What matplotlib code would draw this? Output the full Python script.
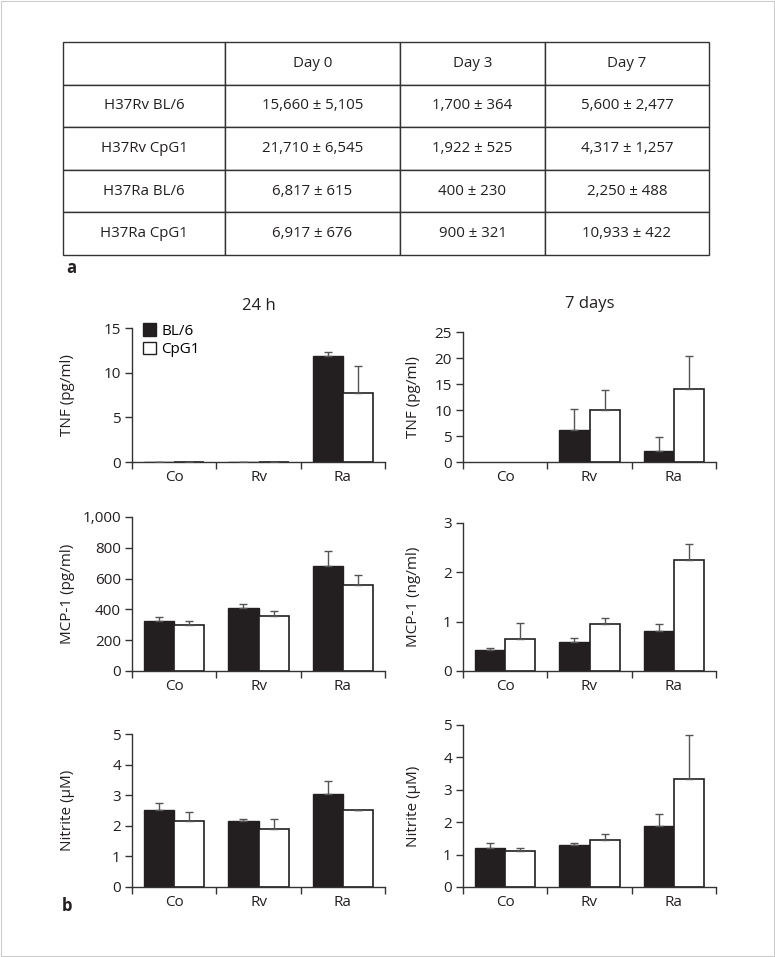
import numpy as np
import matplotlib
matplotlib.use("Agg")
import matplotlib.pyplot as plt
from matplotlib.patches import Patch, Rectangle
from matplotlib.ticker import FuncFormatter

plt.rcParams['font.family'] = ['Open Sans', 'DejaVu Sans']

# ---- table data (panel a) ----
col_labels = ["", "Day 0", "Day 3", "Day 7"]
row_labels = ["H37Rv BL/6", "H37Rv CpG1", "H37Ra BL/6", "H37Ra CpG1"]
day0 = ["15,660 \u00b1 5,105", "21,710 \u00b1 6,545", "6,817 \u00b1 615", "6,917 \u00b1 676"]
day3 = ["1,700 \u00b1 364", "1,922 \u00b1 525", "400 \u00b1 230", "900 \u00b1 321"]
day7 = ["5,600 \u00b1 2,477", "4,317 \u00b1 1,257", "2,250 \u00b1 488", "10,933 \u00b1 422"]

# ---- bar data (panel b) ----
groups = ["Co", "Rv", "Ra"]

tnf_24_bl = [0, 0, 11.9]
tnf_24_bl_err = [0, 0, 0.45]
tnf_24_cpg = [0, 0, 7.7]
tnf_24_cpg_err = [0, 0, 3.0]

tnf_7_bl = [np.nan, 6.1, 2.05]
tnf_7_bl_err = [np.nan, 4.1, 2.75]
tnf_7_cpg = [np.nan, 10.05, 14.0]
tnf_7_cpg_err = [np.nan, 3.85, 6.3]

mcp_24_bl = [324, 411, 680]
mcp_24_bl_err = [24, 24, 96]
mcp_24_cpg = [300, 354, 557]
mcp_24_cpg_err = [24, 35, 67]

mcp_7_bl = [0.42, 0.59, 0.82]
mcp_7_bl_err = [0.05, 0.08, 0.13]
mcp_7_cpg = [0.64, 0.95, 2.26]
mcp_7_cpg_err = [0.33, 0.12, 0.31]

no_24_bl = [2.51, 2.17, 3.05]
no_24_bl_err = [0.25, 0.06, 0.41]
no_24_cpg = [2.17, 1.90, 2.53]
no_24_cpg_err = [0.28, 0.32, 0.0]

no_7_bl = [1.21, 1.29, 1.88]
no_7_bl_err = [0.14, 0.08, 0.36]
no_7_cpg = [1.12, 1.44, 3.33]
no_7_cpg_err = [0.09, 0.20, 1.37]

W, H = 775, 957
fig = plt.figure(figsize=(W / 100, H / 100), dpi=100)
fig.patches.append(Rectangle((0.001, 0.001), 0.998, 0.998, transform=fig.transFigure,
                             fill=False, edgecolor="#cccccc", lw=0.8))

# ---- panel a: table ----
tab_ax = fig.add_axes([63 / W, 1 - 255 / H, 646 / W, 213 / H])
tab_ax.axis("off")
cells = [col_labels] + [[r, a, b, c] for r, a, b, c in zip(row_labels, day0, day3, day7)]
widths = np.array([162, 175, 145, 164]) / 646
tbl = tab_ax.table(cellText=cells, colWidths=widths, cellLoc="center", bbox=[0, 0, 1, 1])
tbl.auto_set_font_size(False)
for (r, c), cell in tbl.get_celld().items():
    cell.set_edgecolor("#333333")
    cell.set_linewidth(1.0)
    cell.get_text().set_fontsize(10.8)
    cell.get_text().set_color("#231f20")

fig.text(66 / W, 1 - 268 / H, "a", fontsize=12, fontweight="bold", va="center", color="#231f20")
fig.text(62 / W, 1 - 906 / H, "b", fontsize=12, fontweight="bold", va="center", color="#231f20")

# ---- panel b: bar charts ----
bw = 0.356
dark = "#231f20"
err_col = "#555555"
fs = 11


def bar_panel(rect, bl, bl_err, cpg, cpg_err, ymax, yticks, ylabel, label_x, fmt=None):
    ax = fig.add_axes(rect)
    x = np.arange(len(groups)) + 0.5
    ax.bar(x - bw / 2, bl, bw, color=dark, edgecolor=dark, lw=1.0, zorder=2)
    ax.bar(x + bw / 2, cpg, bw, color="white", edgecolor=dark, lw=1.2, zorder=2)
    ax.errorbar(x - bw / 2, bl, yerr=[np.zeros(len(bl)), bl_err], fmt="none",
                ecolor=err_col, elinewidth=1.0, capsize=3, capthick=1.0, zorder=3)
    ax.errorbar(x + bw / 2, cpg, yerr=[np.zeros(len(cpg)), cpg_err], fmt="none",
                ecolor=err_col, elinewidth=1.0, capsize=3, capthick=1.0, zorder=3)
    ax.set_xlim(0, 3)
    ax.set_ylim(0, ymax)
    ax.set_yticks(yticks)
    if fmt:
        ax.yaxis.set_major_formatter(FuncFormatter(fmt))
    ax.set_xticks([0, 1, 2, 3])
    ax.set_xticklabels([])
    ax.set_xticks(x, minor=True)
    ax.set_xticklabels(groups, minor=True)
    ax.tick_params(axis="x", which="minor", length=0, pad=6, labelsize=fs, colors=dark)
    ax.tick_params(axis="x", which="major", length=5, width=1, color="#333333")
    ax.tick_params(axis="y", length=5, width=1, color="#333333", labelsize=fs,
                   labelcolor=dark, pad=3)
    for s in ["top", "right"]:
        ax.spines[s].set_visible(False)
    for s in ["left", "bottom"]:
        ax.spines[s].set_color("#333333")
        ax.spines[s].set_linewidth(1.0)
    ax.set_ylabel(ylabel, fontsize=fs, color=dark)
    ax.yaxis.set_label_coords(label_x, 0.5)
    return ax


comma = lambda v, p: f"{int(v):,}"
lx_left = (75 - 132) / 253
lx_right = (421 - 463) / 253

ax1 = bar_panel([132 / W, 1 - 462 / H, 253 / W, 134 / H], tnf_24_bl, tnf_24_bl_err,
                tnf_24_cpg, tnf_24_cpg_err, 15, [0, 5, 10, 15], "TNF (pg/ml)", lx_left)
ax1.set_title("24 h", fontsize=12, color=dark, pad=13)
ax1.legend(handles=[Patch(facecolor=dark, edgecolor=dark, label="BL/6"),
                    Patch(facecolor="white", edgecolor=dark, label="CpG1")],
           loc="upper left", bbox_to_anchor=(0.02, 1.08), frameon=False, fontsize=fs,
           handlelength=0.85, handleheight=0.85, handletextpad=0.35, labelspacing=0.2,
           borderaxespad=0)

ax2 = bar_panel([463 / W, 1 - 462 / H, 253 / W, 130 / H], tnf_7_bl, tnf_7_bl_err,
                tnf_7_cpg, tnf_7_cpg_err, 25, [0, 5, 10, 15, 20, 25], "TNF (pg/ml)",
                lx_right)
ax2.set_title("7 days", fontsize=12, color=dark, pad=17)

bar_panel([132 / W, 1 - 671 / H, 253 / W, 154 / H], mcp_24_bl, mcp_24_bl_err,
          mcp_24_cpg, mcp_24_cpg_err, 1000, [0, 200, 400, 600, 800, 1000],
          "MCP-1 (pg/ml)", lx_left, comma)
bar_panel([463 / W, 1 - 671 / H, 253 / W, 148 / H], mcp_7_bl, mcp_7_bl_err,
          mcp_7_cpg, mcp_7_cpg_err, 3, [0, 1, 2, 3], "MCP-1 (ng/ml)", lx_right)

bar_panel([132 / W, 1 - 887 / H, 253 / W, 153 / H], no_24_bl, no_24_bl_err,
          no_24_cpg, no_24_cpg_err, 5, [0, 1, 2, 3, 4, 5], "Nitrite (\u00b5M)", lx_left)
bar_panel([463 / W, 1 - 887 / H, 253 / W, 162 / H], no_7_bl, no_7_bl_err,
          no_7_cpg, no_7_cpg_err, 5, [0, 1, 2, 3, 4, 5], "Nitrite (\u00b5M)", lx_right)

fig.savefig("out.png", dpi=100)
